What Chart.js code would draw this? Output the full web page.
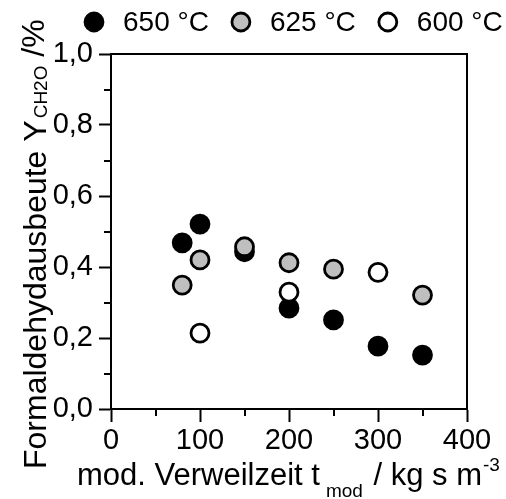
<!DOCTYPE html>
<html>
<head>
<meta charset="utf-8">
<script src="https://cdn.jsdelivr.net/npm/chart.js@4"></script>
<style>
  html, body { margin: 0; padding: 0; background: #fff; }
  #wrap { width: 506px; height: 499px; }
</style>
</head>
<body>
<div id="wrap"><canvas id="chart" width="506" height="499"></canvas></div>
<script>
// residence time (kg s m^-3) and formaldehyde yield per temperature
const labels650 = "650 °C";
const x650 = [80, 100, 150, 200, 250, 300, 350];
const y650 = [0.468, 0.521, 0.443, 0.284, 0.251, 0.177, 0.152];

const labels625 = "625 °C";
const x625 = [80, 100, 150, 200, 250, 350];
const y625 = [0.349, 0.420, 0.457, 0.412, 0.394, 0.321];

const labels600 = "600 °C";
const x600 = [100, 200, 300];
const y600 = [0.214, 0.329, 0.385];

const xMinor = [50, 150, 250, 350];
const yMinor = [0.1, 0.3, 0.5, 0.7, 0.9];

const FONT = "'Liberation Sans', Arial, sans-serif";
const TICK_SIZE = 29;
const TITLE_SIZE = 31;
const YTITLE_SIZE = 32;
const SUB_SIZE = 19;

function pts(xs, ys) {
  return xs.map((x, i) => ({ x: x, y: ys[i] }));
}

function ds(label, xs, ys, fill, order) {
  return {
    label: label,
    data: pts(xs, ys),
    backgroundColor: fill,
    borderColor: "#000",
    borderWidth: 2.8,
    pointRadius: 9,
    pointHoverRadius: 9,
    order: order
  };
}

// frame on all four sides + short minor ticks
const framePlugin = {
  id: "frame",
  afterDraw(chart) {
    const { ctx, chartArea: a, scales } = chart;
    ctx.save();
    ctx.strokeStyle = "#000";
    ctx.lineWidth = 2;
    ctx.strokeRect(a.left, a.top, a.right - a.left, a.bottom - a.top);
    ctx.beginPath();
    xMinor.forEach(v => {
      const px = Math.round(scales.x.getPixelForValue(v));
      ctx.moveTo(px, a.bottom);
      ctx.lineTo(px, a.bottom + 7);
    });
    yMinor.forEach(v => {
      const py = Math.round(scales.y.getPixelForValue(v));
      ctx.moveTo(a.left, py);
      ctx.lineTo(a.left - 7, py);
    });
    ctx.stroke();
    ctx.restore();
  }
};

// axis titles with sub/superscripts
const titlePlugin = {
  id: "titles",
  afterDraw(chart) {
    const ctx = chart.ctx;
    const big = TITLE_SIZE + "px " + FONT;
    const small = SUB_SIZE + "px " + FONT;
    ctx.save();
    ctx.fillStyle = "#000";
    ctx.textBaseline = "alphabetic";
    ctx.textAlign = "left";

    // x title
    let x = 77;
    const yb = 485;
    ctx.font = big;
    ctx.fillText("mod. Verweilzeit t", x, yb);
    x += ctx.measureText("mod. Verweilzeit t").width + 6;
    ctx.font = small;
    ctx.fillText("mod", x, yb + 12);
    x += ctx.measureText("mod").width + 2;
    ctx.font = big;
    ctx.fillText(" / kg s m", x, yb);
    x += ctx.measureText(" / kg s m").width + 1;
    ctx.font = small;
    ctx.fillText("-3", x, yb - 14);

    // y title, rotated
    ctx.translate(46, 469);
    ctx.rotate(-Math.PI / 2);
    let t = 0;
    ctx.font = YTITLE_SIZE + "px " + FONT;
    ctx.fillText("Formaldehydausbeute Y", t, 0);
    t += ctx.measureText("Formaldehydausbeute Y").width + 2;
    ctx.font = small;
    ctx.fillText("CH2O", t, 1);
    t += ctx.measureText("CH2O").width;
    ctx.font = YTITLE_SIZE + "px " + FONT;
    ctx.fillText(" /%", t, -2);
    ctx.restore();
  }
};

// legend row along the top
const legendPlugin = {
  id: "topLegend",
  afterDraw(chart) {
    const ctx = chart.ctx;
    ctx.save();
    ctx.font = "28px " + FONT;
    ctx.textBaseline = "middle";
    ctx.textAlign = "left";
    let x = 85;
    const cy = 22;
    chart.data.datasets.forEach(d => {
      ctx.beginPath();
      ctx.arc(x + 9, cy, 9, 0, Math.PI * 2);
      ctx.fillStyle = d.backgroundColor;
      ctx.fill();
      ctx.lineWidth = d.borderWidth;
      ctx.strokeStyle = d.borderColor;
      ctx.stroke();
      ctx.fillStyle = "#000";
      ctx.fillText(d.label, x + 38, cy + 1);
      x += 38 + ctx.measureText(d.label).width + 23;
    });
    ctx.restore();
  }
};

new Chart(document.getElementById("chart"), {
  type: "scatter",
  data: {
    datasets: [
      ds(labels650, x650, y650, "#000", 3),
      ds(labels625, x625, y625, "#bfbfbf", 2),
      ds(labels600, x600, y600, "#fff", 1)
    ]
  },
  options: {
    responsive: false,
    animation: false,
    events: [],
    layout: { padding: { top: 54, right: 39, left: 0, bottom: 0 } },
    plugins: {
      legend: { display: false },
      tooltip: { enabled: false }
    },
    scales: {
      x: {
        type: "linear",
        min: 0,
        max: 400,
        afterFit(s) { s.height = 90; },
        border: { display: true, color: "#000", width: 2 },
        grid: { drawOnChartArea: false, drawTicks: true, tickLength: 13, tickWidth: 2, tickColor: "#000" },
        ticks: {
          stepSize: 100,
          padding: 2,
          color: "#000",
          font: { family: FONT, size: TICK_SIZE },
          maxRotation: 0
        }
      },
      y: {
        type: "linear",
        min: 0,
        max: 1,
        afterFit(s) { s.width = 111; },
        border: { display: true, color: "#000", width: 2 },
        grid: { drawOnChartArea: false, drawTicks: true, tickLength: 12, tickWidth: 2, tickColor: "#000" },
        ticks: {
          stepSize: 0.2,
          padding: 6,
          color: "#000",
          font: { family: FONT, size: TICK_SIZE },
          callback: v => v.toFixed(1).replace(".", ",")
        }
      }
    }
  },
  plugins: [framePlugin, titlePlugin, legendPlugin]
});
</script>
</body>
</html>
